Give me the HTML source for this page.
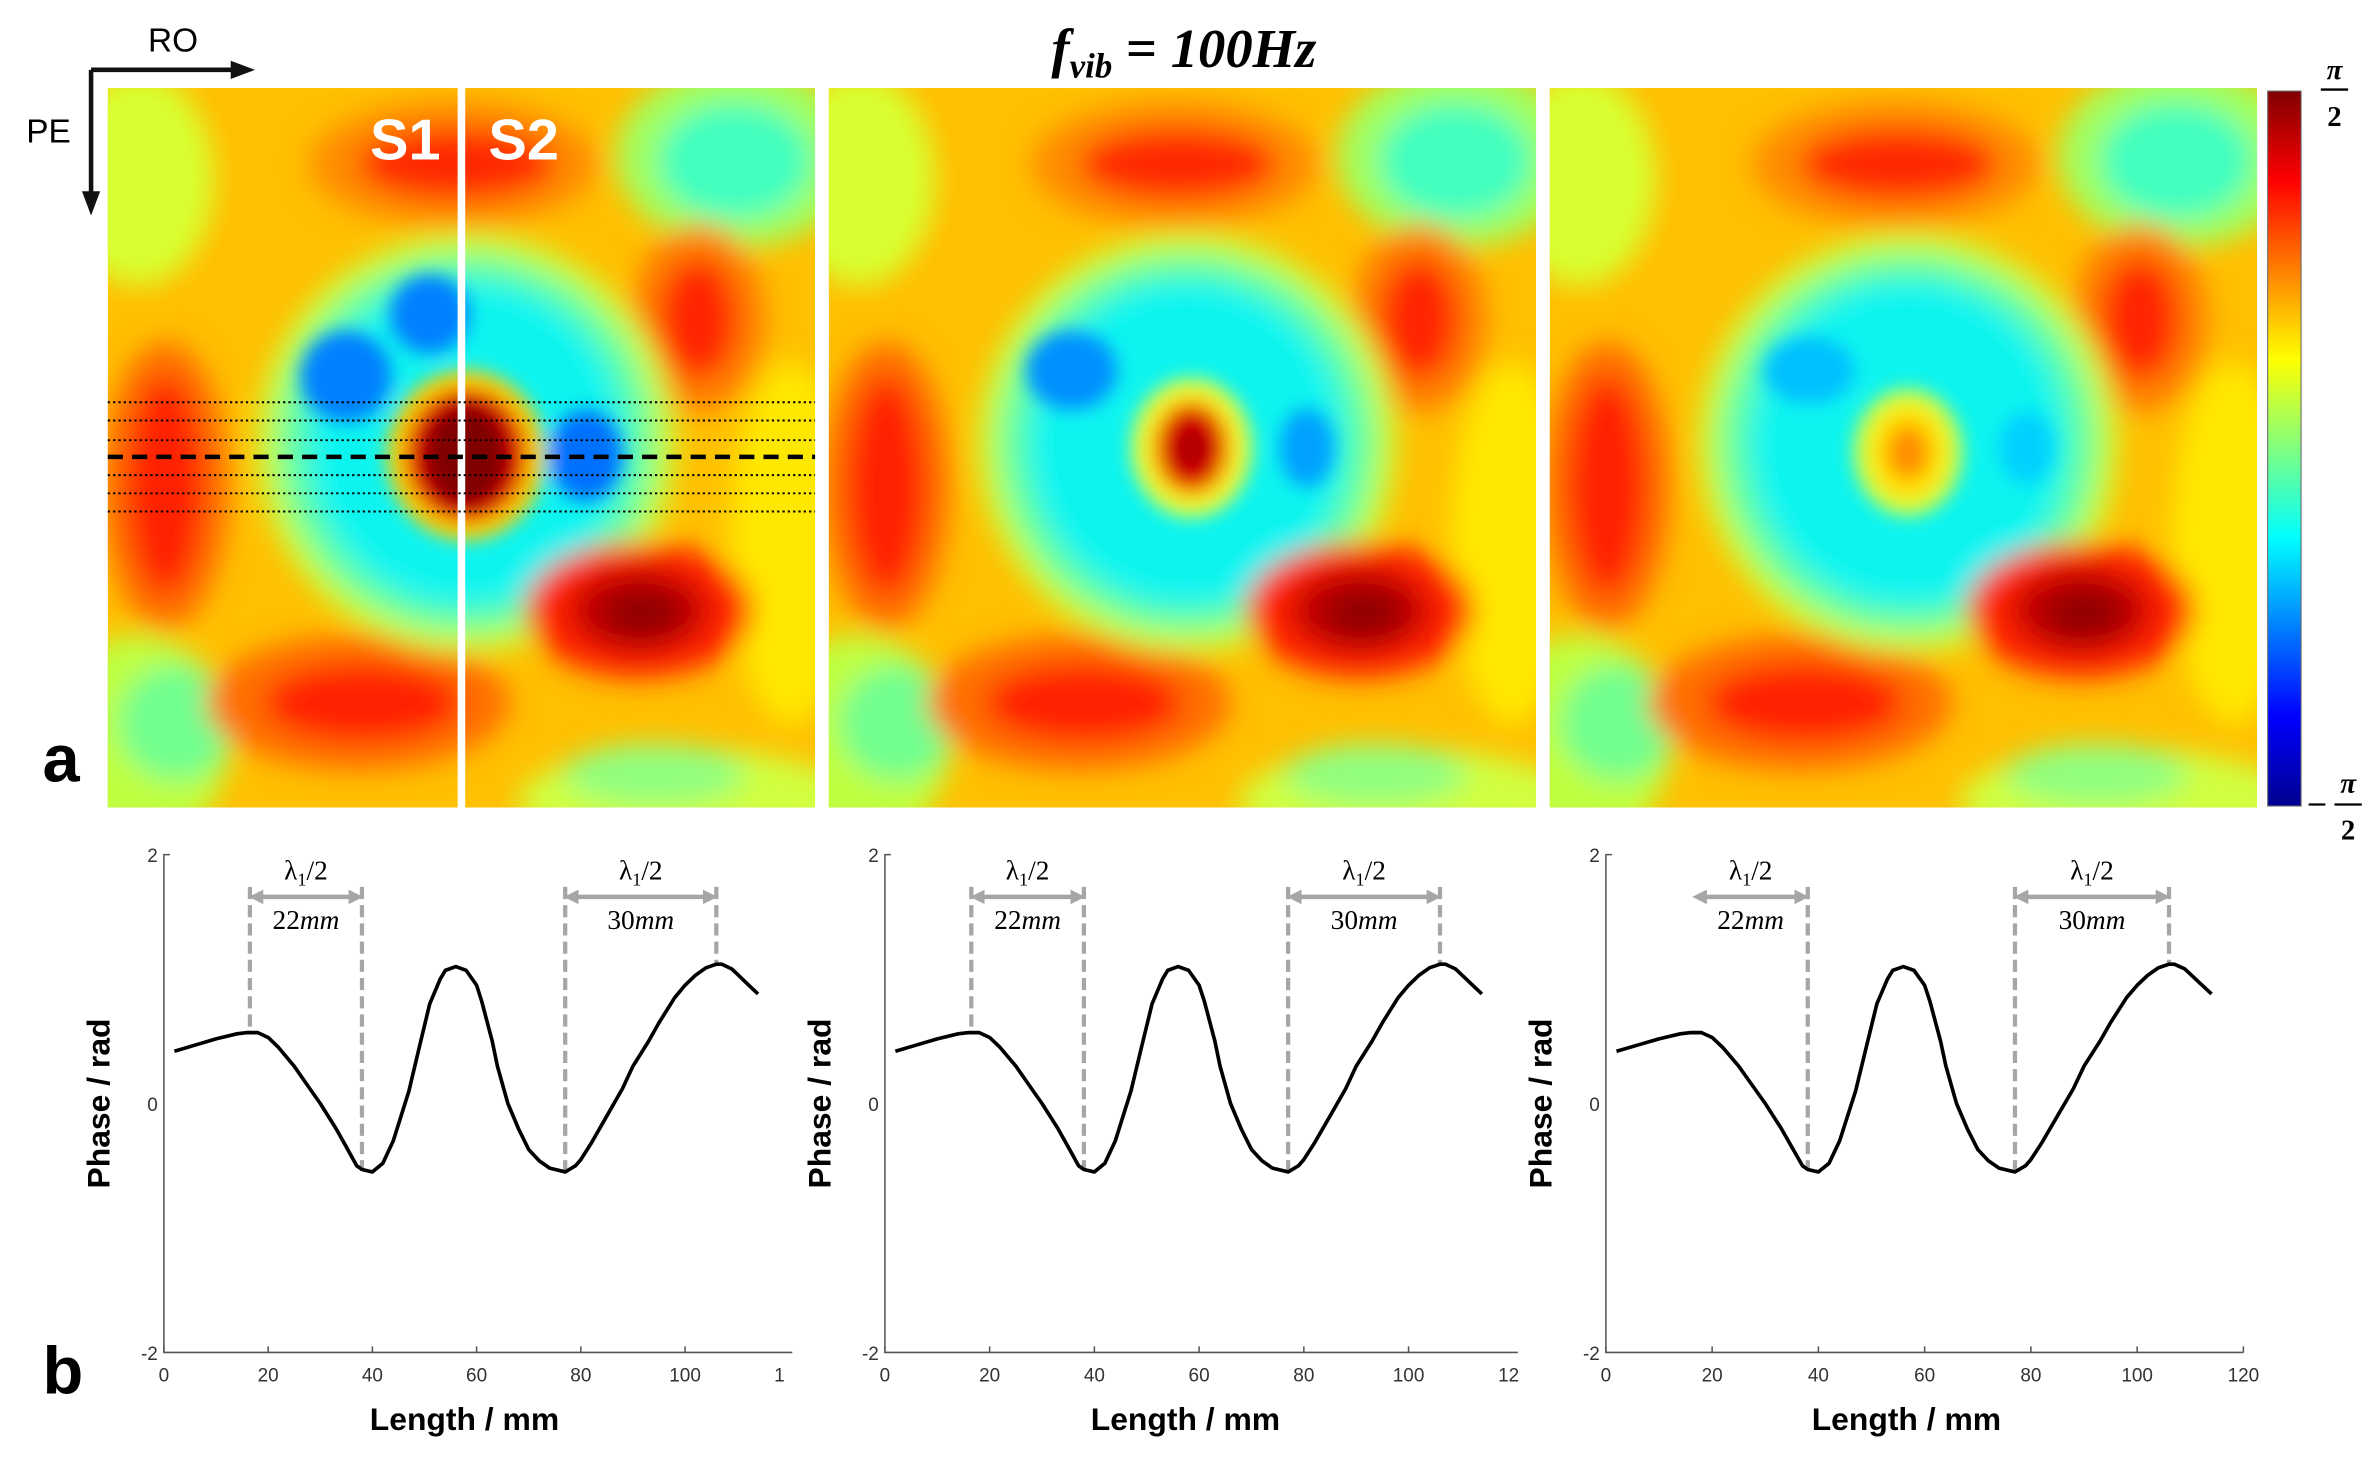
<!DOCTYPE html>
<html><head><meta charset="utf-8"><style>html,body{margin:0;padding:0;background:#fff}svg{display:block}</style></head>
<body>
<svg id="fig" xmlns="http://www.w3.org/2000/svg" width="2380" height="1459" viewBox="0 0 1568 961.2" font-family="Liberation Sans, sans-serif">
<defs>
<filter id="bl" x="-50%" y="-50%" width="200%" height="200%"><feGaussianBlur stdDeviation="9"/></filter>
<filter id="bl2" x="-50%" y="-50%" width="200%" height="200%"><feGaussianBlur stdDeviation="6"/></filter>
<linearGradient id="jet" x1="0" y1="1" x2="0" y2="0">
<stop offset="0" stop-color="#00008f"/><stop offset="0.125" stop-color="#0000ff"/><stop offset="0.375" stop-color="#00ffff"/><stop offset="0.625" stop-color="#ffff00"/><stop offset="0.875" stop-color="#ff0000"/><stop offset="1" stop-color="#800000"/>
</linearGradient>
<marker id="ah" viewBox="0 0 10 10" refX="5" refY="5" markerWidth="3.2" markerHeight="3.2" orient="auto-start-reverse"><path d="M0,0L10,5L0,10z" fill="#a6a6a6"/></marker>
</defs>
<g id="maps"></g>
<rect x="1494" y="60" width="22" height="471" fill="url(#jet)" stroke="#666" stroke-width="0.7"/>
<g font-family="Liberation Serif, serif" font-weight="bold" font-size="19" text-anchor="middle">
<text x="1538" y="52" font-style="italic">π</text><line x1="1529" y1="59" x2="1547" y2="59" stroke="#000" stroke-width="1.5"/><text x="1538" y="83">2</text></g>
<g font-family="Liberation Serif, serif" font-weight="bold" font-size="19" text-anchor="middle">
<line x1="1521" y1="530" x2="1532" y2="530" stroke="#000" stroke-width="1.5"/>
<text x="1547" y="522" font-style="italic">π</text><line x1="1538" y1="530" x2="1556" y2="530" stroke="#000" stroke-width="1.5"/><text x="1547" y="553">2</text></g>
<text x="780" y="44" text-anchor="middle" font-family="Liberation Serif, serif" font-weight="bold" font-style="italic" font-size="36">f<tspan font-size="23" dy="7">vib</tspan><tspan dy="-7" font-style="normal"> = </tspan>100Hz</text>
<g>
<text x="114" y="34" font-size="22" text-anchor="middle">RO</text>
<text x="32" y="94" font-size="22" text-anchor="middle">PE</text>
<path d="M60,46H158" stroke="#111" stroke-width="3" fill="none"/><path d="M152,40L168,46L152,52z" fill="#111"/>
<path d="M60,46V130" stroke="#111" stroke-width="3" fill="none"/><path d="M54,126L60,142L66,126z" fill="#111"/>
</g>
<text x="28" y="515" font-size="44" font-weight="bold">a</text>
<text x="28" y="918" font-size="44" font-weight="bold">b</text>
<g id="plots"></g>
</svg>
<script>
const NS='http://www.w3.org/2000/svg';
function mk(tag,attrs,parent){const e=document.createElementNS(NS,tag);for(const k in attrs)e.setAttribute(k,attrs[k]);parent.appendChild(e);return e;}
const panelX=[71,546,1021];
const panelY=58, panelW=466, panelH=474;
const edgeBlobs=[
 [20,60,50,70,'#d8ff30'],[20,430,60,70,'#c0ff40'],[450,300,40,120,'#ffe800'],[380,470,110,35,'#d0ff40'],
 [415,45,80,60,'#a0ff60'],[413,48,50,38,'#40ffc0'],[45,418,38,38,'#70ff90'],[360,452,60,20,'#90ff80'],
 [228,50,95,42,'#ff8c00'],[230,50,65,24,'#ff2a00'],
 [389,152,45,62,'#ff8000'],[389,152,26,40,'#ff2800'],
 [38,262,42,95,'#ff7000'],[38,262,26,72,'#ff2000'],
 [165,405,100,45,'#ff7000'],[168,405,65,26,'#ff2400'],
 [236,234,138,138,'#c8ff40'],[236,234,124,124,'#60ffa0'],[236,234,105,108,'#10f4f0'],
 [350,344,75,45,'#ff2000'],[350,344,45,28,'#c00000'],[352,346,25,16,'#900000']];
const panelExtras=[
 [[212,149,26,26,'#0080ff'],[157,190,30,30,'#0080ff'],[315,242,24,30,'#0070ff'],[236,242,52,56,'#ffd000'],[236,242,40,44,'#e00000'],[236,242,28,34,'#800000']],
 [[160,186,30,26,'#0090ff'],[315,237,18,26,'#00a0ff'],[239,237,40,46,'#e0ff40'],[239,237,30,36,'#ffd000'],[239,237,22,28,'#e00000'],[239,237,12,16,'#b00000']],
 [[171,186,30,22,'#00c0ff'],[314,237,18,24,'#00d0ff'],[236,240,36,42,'#d0ff40'],[236,240,26,32,'#ffe000'],[236,240,14,18,'#ff9000']]];
const maps=document.getElementById('maps');
panelX.forEach((px,i)=>{
 const g=mk('g',{},maps);
 
 
 const cp=mk('clipPath',{id:'cp'+i},g);mk('rect',{x:px,y:panelY,width:panelW,height:panelH},cp);
 const inner=mk('g',{'clip-path':'url(#cp'+i+')'},g);
 mk('rect',{x:px,y:panelY,width:panelW,height:panelH,fill:'#ffc000'},inner);
 const bg=mk('g',{filter:'url(#bl)'},inner);
 edgeBlobs.forEach(b=>mk('ellipse',{cx:px+b[0],cy:panelY+b[1],rx:b[2],ry:b[3],fill:b[4]},bg));
 const bg2=mk('g',{filter:'url(#bl2)'},inner);
 panelExtras[i].forEach(b=>mk('ellipse',{cx:px+b[0],cy:panelY+b[1],rx:b[2],ry:b[3],fill:b[4]},bg2));
});
const g1=maps;
const sl=mk('line',{x1:304,y1:58,x2:304,y2:532,stroke:'#fff','stroke-width':5},g1);


[['S1',267],['S2',345]].forEach(s=>{const t=mk('text',{x:s[1],y:105,'font-size':38,'font-weight':'bold',fill:'#fff','text-anchor':'middle'},g1);t.textContent=s[0];
 
 });
[265,277,290,313,325,337].forEach(y=>{const l=mk('line',{x1:71,x2:537,y1:y,y2:y,stroke:'#000','stroke-width':1.3,'stroke-dasharray':'1.5 2'},g1);
 
 });
const dl=mk('line',{x1:71,x2:537,y1:301,y2:301,stroke:'#000','stroke-width':3,'stroke-dasharray':'10 6'},g1);



const lengthMm=[2,6,10,14,16,18,20,22,25,28,30,33,35,37,38,40,42,44,47,49,51,53,54,56,58,60,61,63,64,66,68,70,72,74,77,79,80,82,85,88,90,93,95,98,100,102,104,106,107,109,110,112,114];
const phaseRad=[0.42,0.47,0.52,0.56,0.57,0.57,0.53,0.45,0.3,0.12,0,-0.2,-0.35,-0.5,-0.53,-0.55,-0.48,-0.3,0.1,0.45,0.8,1.0,1.07,1.1,1.07,0.95,0.82,0.5,0.3,0,-0.2,-0.37,-0.46,-0.52,-0.55,-0.5,-0.45,-0.32,-0.1,0.12,0.3,0.5,0.65,0.85,0.95,1.03,1.09,1.12,1.12,1.08,1.04,0.96,0.88];
const xTicks=[0,20,40,60,80,100,120];
const yTicks=[-2,0,2];
const markersX=[[16.5,38,77,106],[16.5,38,77,106],[38,77,106]];
const spanLabels=['22mm','30mm'];
const axes=[{x0:108,x1:520,clip:522,cut:'1'},{x0:583,x1:997,clip:1000,cut:'12'},{x0:1058,x1:1478,clip:1478,cut:null}];
const yTop=563,yBot=891;
const plots=document.getElementById('plots');
axes.forEach((a,i)=>{
 const g=mk('g',{},plots);
 
 
 const X=v=>a.x0+(v-0)/(120-0)*(a.x1-a.x0);
 const Y=v=>yBot-(v+2)/4*(yBot-yTop);
 const ax=mk('path',{d:`M${a.x0+4},${yTop}H${a.x0}V${yBot}H${a.clip}`,stroke:'#555','stroke-width':1,fill:'none'},g);
 
 
 xTicks.forEach((t,k)=>{const x=X(t);
  const last=k===xTicks.length-1;
  if(!last||!a.cut)mk('line',{x1:x,x2:x,y1:yBot,y2:yBot-4,stroke:'#555','stroke-width':1},g);
  const tx=mk('text',{x:x,y:yBot+19,'font-size':12.5,fill:'#333','text-anchor':'middle'},g);tx.textContent=t;
  if(last&&a.cut){tx.setAttribute('text-anchor','start');tx.setAttribute('x',x-10);tx.textContent=a.cut;}
  
  });
 yTicks.forEach(t=>{const y=Y(t);const ty=mk('text',{x:a.x0-4,y:y+5,'font-size':12.5,fill:'#333','text-anchor':'end'},g);ty.textContent=t;
  
  });
 const xl=mk('text',{x:a.x0+198,y:942,'font-size':21,'font-weight':'bold','text-anchor':'middle'},g);xl.textContent='Length / mm';
 
 
 const yl=mk('text',{x:0,y:0,'font-size':21,'font-weight':'bold','text-anchor':'middle',transform:`translate(${a.x0-36},${Y(0)}) rotate(-90)`},g);yl.textContent='Phase / rad';
 
 
 const interp=v=>{for(let k=1;k<lengthMm.length;k++){if(lengthMm[k]>=v){const f=(v-lengthMm[k-1])/(lengthMm[k]-lengthMm[k-1]);return phaseRad[k-1]+f*(phaseRad[k]-phaseRad[k-1]);}}return phaseRad[phaseRad.length-1];};
 markersX[i].forEach(m=>{const ln=mk('line',{x1:X(m),x2:X(m),y1:Y(1.74),y2:Y(interp(m)),stroke:'#a6a6a6','stroke-width':2.8,'stroke-dasharray':'8 4'},g);
  
  });
 [[16.5,38,spanLabels[0]],[77,106,spanLabels[1]]].forEach(s=>{
  const ar=mk('line',{x1:X(s[0])+4,x2:X(s[1])-4,y1:Y(1.66),y2:Y(1.66),stroke:'#a6a6a6','stroke-width':3,'marker-start':'url(#ah)','marker-end':'url(#ah)'},g);
  
  
  const cx=(X(s[0])+X(s[1]))/2;
  const t1=mk('text',{x:cx,y:Y(1.80),'font-size':18,'text-anchor':'middle','font-family':'Liberation Serif, serif'},g);t1.innerHTML='λ<tspan font-size="12" dy="4">1</tspan><tspan dy="-4">/2</tspan>';
  
  
  const t2=mk('text',{x:cx,y:Y(1.40),'font-size':18,'text-anchor':'middle','font-family':'Liberation Serif, serif'},g);t2.innerHTML=s[2].slice(0,2)+'<tspan font-style="italic">mm</tspan>';
  
  });
 const d=lengthMm.map((v,k)=>(k?'L':'M')+X(v).toFixed(1)+','+Y(phaseRad[k]).toFixed(1)).join('');
 const cv=mk('path',{d:d,stroke:'#000','stroke-width':2.4,fill:'none','stroke-linejoin':'round'},g);
 
 
});
</script>
</body></html>
